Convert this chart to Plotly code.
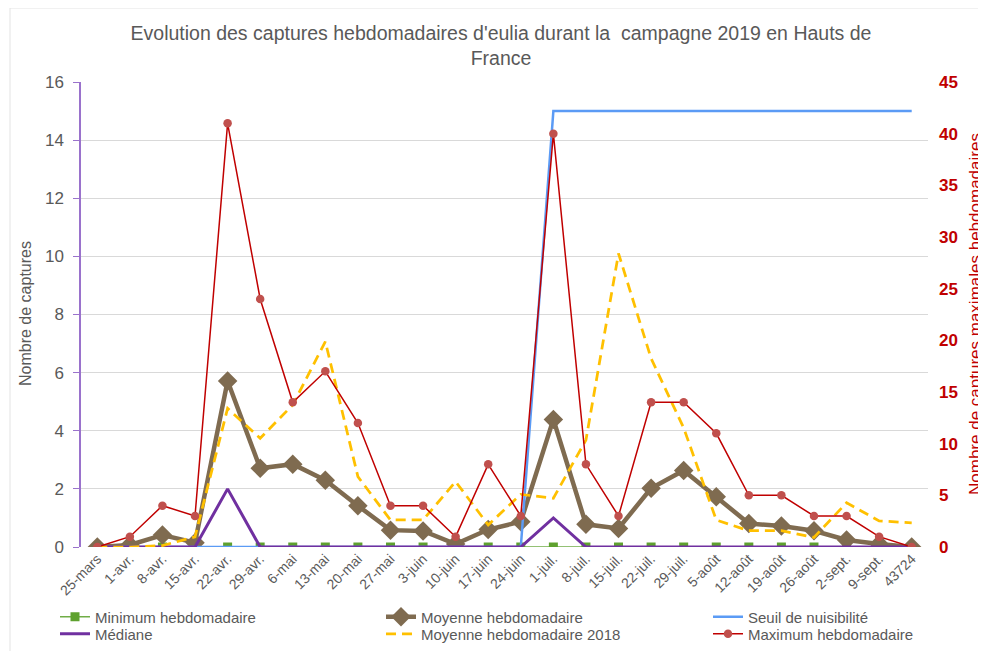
import plotly.graph_objects as go

categories = ["25-mars", "1-avr.", "8-avr.", "15-avr.", "22-avr.", "29-avr.", "6-mai", "13-mai",
              "20-mai", "27-mai", "3-juin", "10-juin", "17-juin", "24-juin", "1-juil.", "8-juil.",
              "15-juil.", "22-juil.", "29-juil.", "5-août", "12-août", "19-août", "26-août",
              "2-sept.", "9-sept.", "43724"]

minimum = [0] * 26
moyenne = [0, 0.07, 0.41, 0.15, 5.71, 2.71, 2.85, 2.3, 1.42, 0.58, 0.55, 0.1, 0.6, 0.87,
           4.39, 0.78, 0.64, 2.02, 2.63, 1.73, 0.81, 0.72, 0.56, 0.24, 0.1, 0]
seuil = [0] * 14 + [15] * 12
mediane = [0, 0, 0, 0, 2, 0, 0, 0, 0, 0, 0, 0, 0, 0, 1, 0, 0, 0, 0, 0, 0, 0, 0, 0, 0, 0]
moyenne_2018 = [0, 0, 0.05, 0.35, 4.77, 3.74, 4.89, 7.07, 2.42, 0.93, 0.93, 2.25, 0.76, 1.81,
                1.68, 3.68, 10.1, 6.49, 4.1, 0.93, 0.56, 0.56, 0.33, 1.52, 0.9, 0.83]
maximum = [0, 1, 4, 3, 41, 24, 14, 17, 12, 4, 4, 1, 8, 3, 40, 8, 3, 14, 14, 11, 5, 5, 3, 3, 1, 0]

FONT = "Liberation Sans"
GRAY = "#595959"
RED = "#c00000"

# page has an 8px body margin: figure drawn at (8, 8)
W, H = 978, 643
OFF = 8

def cx(X):  # screenshot x -> container fraction
    return (X - OFF) / W

def cy(Y):  # screenshot y -> container fraction
    return 1 - (Y - OFF) / H

def px(X):  # screenshot x -> paper (plot area 81..928)
    return (X - 81) / 847.0

def py(Y):  # screenshot y -> paper (plot area 82..547)
    return (547 - Y) / 465.0

fig = go.Figure()
fig.add_trace(go.Scatter(x=categories, y=minimum, name="Minimum hebdomadaire", mode="lines+markers",
                         line=dict(color="#70ad47", width=1.5),
                         marker=dict(symbol="square", size=9, color="#5ea12e"), legend="legend"))
fig.add_trace(go.Scatter(x=categories, y=moyenne, name="Moyenne hebdomadaire", mode="lines+markers",
                         line=dict(color="#7f6b50", width=4.5),
                         marker=dict(symbol="diamond", size=15, color="#7f6b50"), legend="legend2"))
fig.add_trace(go.Scatter(x=categories, y=seuil, name="Seuil de nuisibilité", mode="lines",
                         line=dict(color="#5b9bf5", width=2.5), legend="legend3"))
fig.add_trace(go.Scatter(x=categories, y=mediane, name="Médiane", mode="lines",
                         line=dict(color="#7030a0", width=3), legend="legend4"))
fig.add_trace(go.Scatter(x=categories, y=moyenne_2018, name="Moyenne hebdomadaire 2018", mode="lines",
                         line=dict(color="#ffc000", width=2.75, dash="10px,6px"), legend="legend5"))
fig.add_trace(go.Scatter(x=categories, y=maximum, name="Maximum hebdomadaire", mode="lines+markers",
                         line=dict(color="#c00000", width=1.5),
                         marker=dict(symbol="circle", size=8.5, color="#c0504d"),
                         yaxis="y2", legend="legend6"))

shapes = [
    dict(type="rect", xref="paper", yref="paper", x0=px(10), x1=px(1000), y0=py(8), y1=py(700),
         fillcolor="rgba(0,0,0,0)", line=dict(color="#e3e3e3", width=1), layer="below"),
]

def legend_at(x_line_start, y_center):
    return dict(orientation="v", xref="paper", yref="paper",
                x=px(x_line_start - 6), y=py(y_center), xanchor="left", yanchor="middle",
                font=dict(size=15, color=GRAY, family=FONT), bgcolor="rgba(0,0,0,0)",
                itemwidth=30, traceorder="normal")

fig.update_layout(
    width=W, height=H,
    margin=dict(l=73, r=58, t=74, b=104, autoexpand=False),
    paper_bgcolor="white", plot_bgcolor="white",
    font=dict(family=FONT, color=GRAY),
    title=dict(text="Evolution des captures hebdomadaires d'eulia durant la  campagne 2019 en Hauts de<br>France",
               x=cx(501), xref="container", xanchor="center", y=cy(40), yref="container", yanchor="middle",
               font=dict(size=19.5, color=GRAY, family=FONT)),
    xaxis=dict(type="category", range=[-0.5, 25.5], tickangle=-45, showgrid=False,
               tickfont=dict(size=14, color=GRAY), ticks="", showline=False, zeroline=False),
    yaxis=dict(range=[0, 16], dtick=2, showgrid=True, gridcolor="#d9d9d9", gridwidth=1.3,
               showline=True, linecolor="#9a72cc", linewidth=1.5, ticks="outside", ticklen=6,
               tickcolor="#9a72cc", tickfont=dict(size=17, color=GRAY), ticklabelstandoff=6,
               zeroline=False),
    yaxis2=dict(range=[0, 45], dtick=5, overlaying="y", side="right", showgrid=False,
                tickfont=dict(size=17, color=RED, family=FONT), ticklabelstandoff=10,
                showline=False, zeroline=False, tickprefix="<b>", ticksuffix="</b>"),
    legend=legend_at(61, 617),
    legend2=legend_at(387, 617),
    legend3=legend_at(714, 617),
    legend4=legend_at(61, 634),
    legend5=legend_at(387, 634),
    legend6=legend_at(714, 634),
    annotations=[
        dict(text="Nombre de captures", textangle=-90, xref="paper", yref="paper",
             x=px(25), y=py(314), xanchor="center", yanchor="middle", showarrow=False,
             font=dict(size=16, color=GRAY)),
        dict(text="Nombre de captures maximales hebdomadaires", textangle=-90, xref="paper", yref="paper",
             x=px(975), y=py(314), xanchor="center", yanchor="middle", showarrow=False,
             font=dict(size=17, color=RED)),
    ],
    shapes=shapes,
    showlegend=True,
)

fig.write_html("out.html")
